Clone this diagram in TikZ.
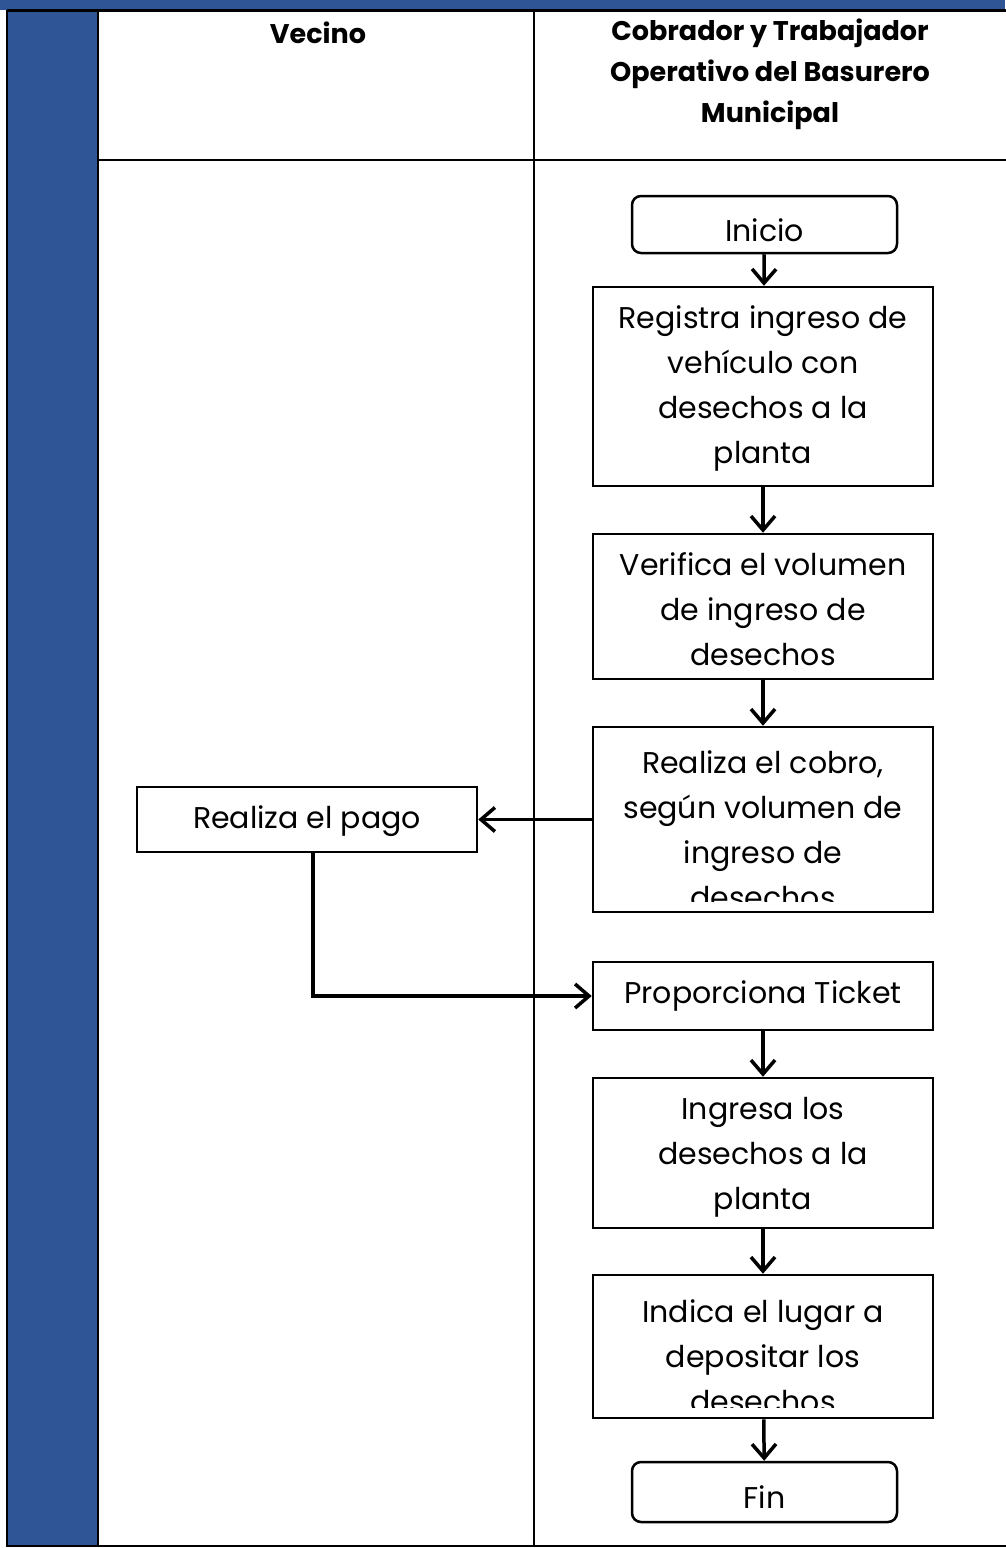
\documentclass[tikz,border=0pt]{standalone}
\usepackage{fontspec}
\setmainfont{Poppins}
\usetikzlibrary{arrows.meta}
\definecolor{laneblue}{RGB}{47,85,151}
\begin{document}
\begin{tikzpicture}[x=1pt,y=-1pt,
  txt/.style={font=\fontsize{30}{45}\selectfont, align=center, inner sep=0pt},
  head/.style={font=\fontsize{27}{41}\selectfont\bfseries, align=center, inner sep=0pt},
  procbox/.style={draw, line width=2.5pt, minimum width=340pt, inner sep=0pt},
  termbox/.style={draw, line width=2.5pt, rounded corners=9pt, minimum width=265pt, inner sep=0pt},
  arr/.style={line width=3.5pt, -{Straight Barb[length=14pt,width=24pt,line width=3.5pt]}},
  lane/.style={line width=2pt}]
\useasboundingbox (0,0) rectangle (1005,1548);
% frame
\fill[laneblue] (0,0) rectangle (1005,10);
\fill[laneblue] (7,10) rectangle (98,1546);
\draw[line width=3pt] (7,10) -- (1010,10);
\draw[lane] (7,10) -- (7,1546) -- (1010,1546);
\draw[lane] (98,10) -- (98,1546);
\draw[lane] (534,10) -- (534,1546);
\draw[lane] (98,160) -- (1010,160);
% headers
\node[head] (hv) at (318,33) {Vecino};
\node[head, anchor=north] (hc) at (770,19) {Cobrador y Trabajador\\Operativo del Basurero\\Municipal};
% nodes
\node[termbox, minimum height=57pt] (ini) at (764.5,224.5) {};
\node[txt] (tini) at (764.5,230) {Inicio};
\node[procbox, minimum height=199pt] (b1) at (763,386.5) {};
\node[txt] (tb1) at (763,388) {Registra ingreso de\\vehículo con\\desechos a la\\planta};
\node[procbox, minimum height=145pt] (b2) at (763,606.5) {};
\node[txt] (tb2) at (763,609) {Verifica el volumen\\de ingreso de\\desechos};
\node[procbox, minimum height=185pt] (b3) at (763,819.5) {};
\begin{scope}
\clip ([xshift=2pt,yshift=2pt]b3.north west) rectangle ([xshift=-2pt,yshift=12pt]b3.south east);
\node[txt] (tb3) at (763,830) {Realiza el cobro,\\según volumen de\\ingreso de\\desechos};
\end{scope}
\node[procbox, minimum width=340pt, minimum height=65pt] (pago) at (307,819.5) {};
\node[txt] (tpago) at (307,821) {Realiza el pago};
\node[procbox, minimum height=68pt] (tk) at (763,996) {};
\node[txt] (ttk) at (763,996) {Proporciona Ticket};
\node[procbox, minimum height=150pt] (b4) at (763,1153) {};
\node[txt] (tb4) at (763,1157) {Ingresa los\\desechos a la\\planta};
\node[procbox, minimum height=143pt] (b5) at (763,1346.5) {};
\begin{scope}
\clip ([xshift=2pt,yshift=2pt]b5.north west) rectangle ([xshift=-2pt,yshift=12pt]b5.south east);
\node[txt] (tb5) at (763,1356) {Indica el lugar a\\depositar los\\desechos};
\end{scope}
\node[termbox, minimum height=60pt] (fin) at (764.5,1492) {};
\node[txt] (tfin) at (764.5,1497) {Fin};
% connectors
\draw[arr] (ini) -- (b1);
\draw[arr] (b1) -- (b2);
\draw[arr] (b2) -- (b3);
\draw[arr] (b3.west |- pago.east) -- (pago.east);
\draw[arr] ([xshift=6pt]pago.south) |- (tk.west);
\draw[arr] (tk) -- (b4);
\draw[arr] (b4) -- (b5);
\draw[arr] (b5) -- (fin);
\end{tikzpicture}
\end{document}
